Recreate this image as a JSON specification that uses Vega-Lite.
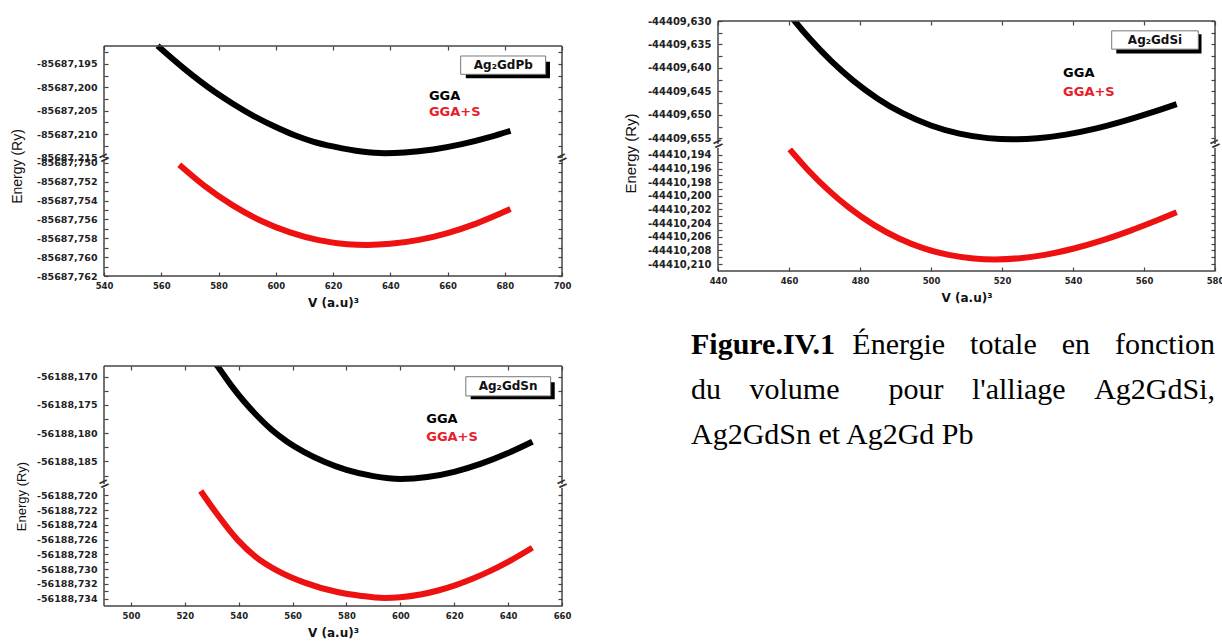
{
"$schema": "https://vega.github.io/schema/vega-lite/v6.json",
"background": "white",
"padding": {"left": 10, "top": 16, "right": 2, "bottom": 2},
"config": {
 "view": {"stroke": null},
 "axis": {"grid": false, "domain": false, "tickColor": "#444", "tickWidth": 1.2, "tickSize": -4, "labelFont": "DejaVu Sans", "labelFontWeight": "bold", "labelFontSize": 9.5, "labelColor": "#222", "labelPadding": 11, "labelOverlap": false, "labelFlush": false, "titleFont": "DejaVu Sans", "titleColor": "#111"},
 "rule": {"color": "#444", "strokeWidth": 1.5}
},
"datasets": {
 "pb": [
  {"V": 558.7, "E": -85687.1911, "m": "GGA"}, {"V": 568, "E": -85687.196, "m": "GGA"}, {"V": 578.5, "E": -85687.2009, "m": "GGA"}, {"V": 585, "E": -85687.2035, "m": "GGA"}, {"V": 592.5, "E": -85687.2062, "m": "GGA"}, {"V": 600, "E": -85687.2085, "m": "GGA"}, {"V": 606.4, "E": -85687.2102, "m": "GGA"}, {"V": 613, "E": -85687.2116, "m": "GGA"}, {"V": 620.4, "E": -85687.2127, "m": "GGA"}, {"V": 630, "E": -85687.21375, "m": "GGA"}, {"V": 638, "E": -85687.2141, "m": "GGA"}, {"V": 645, "E": -85687.21396, "m": "GGA"}, {"V": 655, "E": -85687.21331, "m": "GGA"}, {"V": 665, "E": -85687.21217, "m": "GGA"}, {"V": 675, "E": -85687.21061, "m": "GGA"}, {"V": 682, "E": -85687.2093, "m": "GGA"},
  {"V": 566.3, "E": -85687.7502, "m": "GGA+S"}, {"V": 575, "E": -85687.75241, "m": "GGA+S"}, {"V": 585, "E": -85687.75451, "m": "GGA+S"}, {"V": 595, "E": -85687.75616, "m": "GGA+S"}, {"V": 605, "E": -85687.75737, "m": "GGA+S"}, {"V": 615, "E": -85687.75819, "m": "GGA+S"}, {"V": 625, "E": -85687.75862, "m": "GGA+S"}, {"V": 632, "E": -85687.7587, "m": "GGA+S"}, {"V": 640, "E": -85687.75859, "m": "GGA+S"}, {"V": 650, "E": -85687.75817, "m": "GGA+S"}, {"V": 660, "E": -85687.75744, "m": "GGA+S"}, {"V": 670, "E": -85687.75644, "m": "GGA+S"}, {"V": 682, "E": -85687.7549, "m": "GGA+S"}
 ],
 "si": [
  {"V": 458, "E": -44409.62651, "m": "GGA"}, {"V": 461.6, "E": -44409.63, "m": "GGA"}, {"V": 466, "E": -44409.63391, "m": "GGA"}, {"V": 472, "E": -44409.63861, "m": "GGA"}, {"V": 478, "E": -44409.64264, "m": "GGA"}, {"V": 485, "E": -44409.64654, "m": "GGA"}, {"V": 492, "E": -44409.64964, "m": "GGA"}, {"V": 500, "E": -44409.65226, "m": "GGA"}, {"V": 508, "E": -44409.654, "m": "GGA"}, {"V": 516, "E": -44409.65495, "m": "GGA"}, {"V": 523, "E": -44409.6552, "m": "GGA"}, {"V": 530, "E": -44409.65497, "m": "GGA"}, {"V": 538, "E": -44409.6542, "m": "GGA"}, {"V": 546, "E": -44409.65298, "m": "GGA"}, {"V": 554, "E": -44409.65139, "m": "GGA"}, {"V": 562, "E": -44409.64953, "m": "GGA"}, {"V": 569.2, "E": -44409.6477, "m": "GGA"},
  {"V": 460.2, "E": -44410.1932, "m": "GGA+S"}, {"V": 465, "E": -44410.19603, "m": "GGA+S"}, {"V": 471, "E": -44410.19913, "m": "GGA+S"}, {"V": 477, "E": -44410.20177, "m": "GGA+S"}, {"V": 484, "E": -44410.20428, "m": "GGA+S"}, {"V": 491, "E": -44410.20624, "m": "GGA+S"}, {"V": 498, "E": -44410.20768, "m": "GGA+S"}, {"V": 505, "E": -44410.20864, "m": "GGA+S"}, {"V": 512, "E": -44410.20916, "m": "GGA+S"}, {"V": 518, "E": -44410.2093, "m": "GGA+S"}, {"V": 525, "E": -44410.20913, "m": "GGA+S"}, {"V": 532, "E": -44410.20864, "m": "GGA+S"}, {"V": 540, "E": -44410.20774, "m": "GGA+S"}, {"V": 548, "E": -44410.20655, "m": "GGA+S"}, {"V": 556, "E": -44410.20512, "m": "GGA+S"}, {"V": 563, "E": -44410.20372, "m": "GGA+S"}, {"V": 569.2, "E": -44410.2024, "m": "GGA+S"}
 ],
 "sn": [
  {"V": 528, "E": -56188.1655, "m": "GGA"}, {"V": 532.1, "E": -56188.1681, "m": "GGA"}, {"V": 537, "E": -56188.1714, "m": "GGA"}, {"V": 542, "E": -56188.1744, "m": "GGA"}, {"V": 547, "E": -56188.177, "m": "GGA"}, {"V": 552, "E": -56188.1793, "m": "GGA"}, {"V": 558, "E": -56188.1815, "m": "GGA"}, {"V": 564.2, "E": -56188.1833, "m": "GGA"}, {"V": 572, "E": -56188.1851, "m": "GGA"}, {"V": 580, "E": -56188.1865, "m": "GGA"}, {"V": 590, "E": -56188.1876, "m": "GGA"}, {"V": 600, "E": -56188.1881, "m": "GGA"}, {"V": 610, "E": -56188.18777, "m": "GGA"}, {"V": 620, "E": -56188.18684, "m": "GGA"}, {"V": 630, "E": -56188.18539, "m": "GGA"}, {"V": 640, "E": -56188.18351, "m": "GGA"}, {"V": 649, "E": -56188.1815, "m": "GGA"},
  {"V": 525.9, "E": -56188.7194, "m": "GGA+S"}, {"V": 532.1, "E": -56188.7226, "m": "GGA+S"}, {"V": 539.5, "E": -56188.726, "m": "GGA+S"}, {"V": 546.9, "E": -56188.7285, "m": "GGA+S"}, {"V": 554.3, "E": -56188.7302, "m": "GGA+S"}, {"V": 564.2, "E": -56188.7318, "m": "GGA+S"}, {"V": 576.6, "E": -56188.7331, "m": "GGA+S"}, {"V": 585, "E": -56188.7336, "m": "GGA+S"}, {"V": 594, "E": -56188.7339, "m": "GGA+S"}, {"V": 600, "E": -56188.73381, "m": "GGA+S"}, {"V": 607.5, "E": -56188.73344, "m": "GGA+S"}, {"V": 614, "E": -56188.7329, "m": "GGA+S"}, {"V": 620, "E": -56188.73224, "m": "GGA+S"}, {"V": 627, "E": -56188.73128, "m": "GGA+S"}, {"V": 633, "E": -56188.73031, "m": "GGA+S"}, {"V": 641, "E": -56188.72881, "m": "GGA+S"}, {"V": 649, "E": -56188.7271, "m": "GGA+S"}
 ]
},
"spacing": 52,
"hconcat": [
 {"spacing": 25, "align": "each", "vconcat": [
  {"spacing": 3, "bounds": "flush", "vconcat": [
   {"width": 458, "height": 137, "resolve": {"axis": {"y": "independent"}}, "layer": [
    {"data": {"name": "pb"}, "transform": [{"filter": "datum.m === 'GGA'"}], "mark": {"type": "line", "color": "#000", "strokeWidth": 6, "interpolate": "monotone", "clip": true},
     "encoding": {
      "x": {"field": "V", "type": "quantitative", "scale": {"domain": [540, 700], "nice": false, "zero": false}, "axis": {"orient": "top", "offset": -25, "values": [540,550,560,570,580,590,600,610,620,630,640,650,660,670,680,690,700], "labels": false, "title": null}},
      "y": {"field": "E", "type": "quantitative", "scale": {"domain": [-85687.21513, -85687.185797], "nice": false, "zero": false}, "axis": {"orient": "left", "values": [-85687.1925,-85687.195,-85687.1975,-85687.2,-85687.2025,-85687.205,-85687.2075,-85687.21,-85687.2125,-85687.215], "labelExpr": "abs(round(datum.value*10000)) % 50 == 0 ? '-' + replace(format(abs(datum.value), '.3f'), '.', ',') : ''", "title": "Energy (Ry)", "titleX": -87, "titleY": 145, "titleAngle": 270, "titleAlign": "center", "titleBaseline": "middle", "titleFont": "Liberation Sans", "titleFontWeight": "normal", "titleFontSize": 14}}
     }},
    {"data": {"name": "pb"}, "transform": [{"filter": "datum.m === 'GGA'"}], "mark": {"type": "line", "strokeOpacity": 0, "clip": true},
     "encoding": {"x": {"field": "V", "type": "quantitative"}, "y": {"field": "E", "type": "quantitative", "axis": {"orient": "right", "values": [-85687.1925,-85687.195,-85687.1975,-85687.2,-85687.2025,-85687.205,-85687.2075,-85687.21,-85687.2125,-85687.215], "labels": false, "title": null}}}},
    {"data": {"values": [{}]}, "mark": "rule", "encoding": {"x": {"datum": 540}, "y": {"datum": -85687.19115, "axis": null}, "y2": {"datum": -85687.21513}}},
    {"data": {"values": [{}]}, "mark": "rule", "encoding": {"x": {"datum": 700}, "y": {"datum": -85687.19115, "axis": null}, "y2": {"datum": -85687.21513}}},
    {"data": {"values": [{}]}, "mark": "rule", "encoding": {"y": {"datum": -85687.19115, "axis": null}}},
    {"data": {"values": [{}]}, "mark": {"type": "text", "text": "=", "angle": -25, "fontSize": 16, "fontWeight": "bold", "color": "#333", "align": "center", "baseline": "middle"}, "encoding": {"x": {"datum": 540}, "y": {"datum": -85687.21513, "axis": null}}},
    {"data": {"values": [{}]}, "mark": {"type": "text", "text": "=", "angle": -25, "fontSize": 16, "fontWeight": "bold", "color": "#333", "align": "center", "baseline": "middle"}, "encoding": {"x": {"datum": 700}, "y": {"datum": -85687.21513, "axis": null}}},
    {"data": {"values": [{}]}, "mark": {"type": "rect", "color": "#000"}, "encoding": {"x": {"datum": 666.4}, "x2": {"datum": 695.8}, "y": {"datum": -85687.19451, "axis": null}, "y2": {"datum": -85687.19806}}},
    {"data": {"values": [{}]}, "mark": {"type": "rect", "fill": "#fff", "stroke": "#777", "strokeWidth": 1}, "encoding": {"x": {"datum": 664.6}, "x2": {"datum": 694.3}, "y": {"datum": -85687.19329, "axis": null}, "y2": {"datum": -85687.19721}}},
    {"data": {"values": [{}]}, "mark": {"type": "text", "text": "Ag₂GdPb", "font": "DejaVu Sans", "fontWeight": "bold", "fontSize": 12, "color": "#111", "align": "center", "baseline": "middle"}, "encoding": {"x": {"datum": 679.5}, "y": {"datum": -85687.1952, "axis": null}}},
    {"data": {"values": [{}]}, "mark": {"type": "text", "text": "GGA", "font": "DejaVu Sans", "fontWeight": "bold", "fontSize": 13, "color": "#000", "align": "left", "baseline": "middle"}, "encoding": {"x": {"datum": 653.5}, "y": {"datum": -85687.2019, "axis": null}}},
    {"data": {"values": [{}]}, "mark": {"type": "text", "text": "GGA+S", "font": "DejaVu Sans", "fontWeight": "bold", "fontSize": 13, "color": "#e8202a", "align": "left", "baseline": "middle"}, "encoding": {"x": {"datum": 653.5}, "y": {"datum": -85687.2053, "axis": null}}}
   ]},
   {"width": 458, "height": 115, "resolve": {"axis": {"y": "independent"}}, "layer": [
    {"data": {"name": "pb"}, "transform": [{"filter": "datum.m === 'GGA+S'"}], "mark": {"type": "line", "color": "#ee1111", "strokeWidth": 6, "interpolate": "monotone", "clip": true},
     "encoding": {
      "x": {"field": "V", "type": "quantitative", "scale": {"domain": [540, 700], "nice": false, "zero": false}, "axis": {"orient": "bottom", "values": [540,550,560,570,580,590,600,610,620,630,640,650,660,670,680,690,700], "format": "d", "labelExpr": "datum.value % 20 == 0 ? datum.label : ''", "labelFontSize": 8.5, "labelPadding": 9, "title": "V (a.u)³", "titleFontSize": 12, "titleFontWeight": "bold", "titlePadding": 8}},
      "y": {"field": "E", "type": "quantitative", "scale": {"domain": [-85687.762, -85687.7498], "nice": false, "zero": false}, "axis": {"orient": "left", "values": [-85687.75,-85687.751,-85687.752,-85687.753,-85687.754,-85687.755,-85687.756,-85687.757,-85687.758,-85687.759,-85687.76,-85687.761,-85687.762], "labelExpr": "abs(round(datum.value*10000)) % 20 == 0 ? '-' + replace(format(abs(datum.value), '.3f'), '.', ',') : ''", "title": null}}
     }},
    {"data": {"name": "pb"}, "transform": [{"filter": "datum.m === 'GGA+S'"}], "mark": {"type": "line", "strokeOpacity": 0},
     "encoding": {"x": {"field": "V", "type": "quantitative"}, "y": {"field": "E", "type": "quantitative", "axis": {"orient": "right", "values": [-85687.75,-85687.751,-85687.752,-85687.753,-85687.754,-85687.755,-85687.756,-85687.757,-85687.758,-85687.759,-85687.76,-85687.761,-85687.762], "labels": false, "title": null}}}},
    {"data": {"values": [{}]}, "mark": "rule", "encoding": {"x": {"datum": 540}}},
    {"data": {"values": [{}]}, "mark": "rule", "encoding": {"x": {"datum": 700}}},
    {"data": {"values": [{}]}, "mark": "rule", "encoding": {"y": {"datum": -85687.762, "axis": null}}}
   ]}
  ]},
  {"title": {"text": " ", "fontSize": 22, "offset": 8}, "spacing": 4, "bounds": "flush", "vconcat": [
   {"width": 458, "height": 118, "resolve": {"axis": {"y": "independent"}}, "layer": [
    {"data": {"name": "sn"}, "transform": [{"filter": "datum.m === 'GGA'"}], "mark": {"type": "line", "color": "#000", "strokeWidth": 6, "interpolate": "monotone", "clip": true},
     "encoding": {
      "x": {"field": "V", "type": "quantitative", "scale": {"domain": [490, 660], "nice": false, "zero": false}, "axis": {"orient": "top", "values": [500,510,520,530,540,550,560,570,580,590,600,610,620,630,640,650,660], "labels": false, "title": null}},
      "y": {"field": "E", "type": "quantitative", "scale": {"domain": [-56188.189, -56188.1681], "nice": false, "zero": false}, "axis": {"orient": "left", "values": [-56188.17,-56188.1725,-56188.175,-56188.1775,-56188.18,-56188.1825,-56188.185,-56188.1875], "labelExpr": "abs(round(datum.value*10000)) % 50 == 0 ? '-' + replace(format(abs(datum.value), '.3f'), '.', ',') : ''", "title": "Energy (Ry)", "titleX": -83, "titleY": 130, "titleAngle": 270, "titleAlign": "center", "titleBaseline": "middle", "titleFont": "Liberation Sans", "titleFontWeight": "normal", "titleFontSize": 13}}
     }},
    {"data": {"name": "sn"}, "transform": [{"filter": "datum.m === 'GGA'"}], "mark": {"type": "line", "strokeOpacity": 0, "clip": true},
     "encoding": {"x": {"field": "V", "type": "quantitative"}, "y": {"field": "E", "type": "quantitative", "axis": {"orient": "right", "values": [-56188.17,-56188.1725,-56188.175,-56188.1775,-56188.18,-56188.1825,-56188.185,-56188.1875], "labels": false, "title": null}}}},
    {"data": {"values": [{}]}, "mark": "rule", "encoding": {"x": {"datum": 490}}},
    {"data": {"values": [{}]}, "mark": "rule", "encoding": {"x": {"datum": 660}}},
    {"data": {"values": [{}]}, "mark": "rule", "encoding": {"y": {"datum": -56188.1681, "axis": null}}},
    {"data": {"values": [{}]}, "mark": {"type": "text", "text": "=", "angle": -25, "fontSize": 16, "fontWeight": "bold", "color": "#333", "align": "center", "baseline": "middle"}, "encoding": {"x": {"datum": 490}, "y": {"datum": -56188.189, "axis": null}}},
    {"data": {"values": [{}]}, "mark": {"type": "text", "text": "=", "angle": -25, "fontSize": 16, "fontWeight": "bold", "color": "#333", "align": "center", "baseline": "middle"}, "encoding": {"x": {"datum": 660}, "y": {"datum": -56188.189, "axis": null}}},
    {"data": {"values": [{}]}, "mark": {"type": "rect", "color": "#000"}, "encoding": {"x": {"datum": 626.1}, "x2": {"datum": 657.3}, "y": {"datum": -56188.171, "axis": null}, "y2": {"datum": -56188.174}}},
    {"data": {"values": [{}]}, "mark": {"type": "rect", "fill": "#fff", "stroke": "#777", "strokeWidth": 1}, "encoding": {"x": {"datum": 624.3}, "x2": {"datum": 655.8}, "y": {"datum": -56188.17, "axis": null}, "y2": {"datum": -56188.1734}}},
    {"data": {"values": [{}]}, "mark": {"type": "text", "text": "Ag₂GdSn", "font": "DejaVu Sans", "fontWeight": "bold", "fontSize": 12, "color": "#111", "align": "center", "baseline": "middle"}, "encoding": {"x": {"datum": 640}, "y": {"datum": -56188.1717, "axis": null}}},
    {"data": {"values": [{}]}, "mark": {"type": "text", "text": "GGA", "font": "DejaVu Sans", "fontWeight": "bold", "fontSize": 13, "color": "#000", "align": "left", "baseline": "middle"}, "encoding": {"x": {"datum": 609.6}, "y": {"datum": -56188.1775, "axis": null}}},
    {"data": {"values": [{}]}, "mark": {"type": "text", "text": "GGA+S", "font": "DejaVu Sans", "fontWeight": "bold", "fontSize": 13, "color": "#e8202a", "align": "left", "baseline": "middle"}, "encoding": {"x": {"datum": 609.6}, "y": {"datum": -56188.1806, "axis": null}}}
   ]},
   {"width": 458, "height": 118, "resolve": {"axis": {"y": "independent"}}, "layer": [
    {"data": {"name": "sn"}, "transform": [{"filter": "datum.m === 'GGA+S'"}], "mark": {"type": "line", "color": "#ee1111", "strokeWidth": 6, "interpolate": "monotone", "clip": true},
     "encoding": {
      "x": {"field": "V", "type": "quantitative", "scale": {"domain": [490, 660], "nice": false, "zero": false}, "axis": {"orient": "bottom", "values": [500,510,520,530,540,550,560,570,580,590,600,610,620,630,640,650,660], "format": "d", "labelExpr": "datum.value % 20 == 0 ? datum.label : ''", "labelFontSize": 8.5, "labelPadding": 9, "title": "V (a.u)³", "titleFontSize": 12, "titleFontWeight": "bold", "titlePadding": 8}},
      "y": {"field": "E", "type": "quantitative", "scale": {"domain": [-56188.735, -56188.719], "nice": false, "zero": false}, "axis": {"orient": "left", "values": [-56188.72,-56188.721,-56188.722,-56188.723,-56188.724,-56188.725,-56188.726,-56188.727,-56188.728,-56188.729,-56188.73,-56188.731,-56188.732,-56188.733,-56188.734], "labelExpr": "abs(round(datum.value*10000)) % 20 == 0 ? '-' + replace(format(abs(datum.value), '.3f'), '.', ',') : ''", "title": null}}
     }},
    {"data": {"name": "sn"}, "transform": [{"filter": "datum.m === 'GGA+S'"}], "mark": {"type": "line", "strokeOpacity": 0},
     "encoding": {"x": {"field": "V", "type": "quantitative"}, "y": {"field": "E", "type": "quantitative", "axis": {"orient": "right", "values": [-56188.72,-56188.721,-56188.722,-56188.723,-56188.724,-56188.725,-56188.726,-56188.727,-56188.728,-56188.729,-56188.73,-56188.731,-56188.732,-56188.733,-56188.734], "labels": false, "title": null}}}},
    {"data": {"values": [{}]}, "mark": "rule", "encoding": {"x": {"datum": 490}}},
    {"data": {"values": [{}]}, "mark": "rule", "encoding": {"x": {"datum": 660}}},
    {"data": {"values": [{}]}, "mark": "rule", "encoding": {"y": {"datum": -56188.735, "axis": null}}}
   ]}
  ]}
 ]},
 {"spacing": 26, "align": "each", "vconcat": [
  {"spacing": 4, "bounds": "flush", "vconcat": [
   {"width": 497, "height": 123, "resolve": {"axis": {"y": "independent"}}, "layer": [
    {"data": {"name": "si"}, "transform": [{"filter": "datum.m === 'GGA'"}], "mark": {"type": "line", "color": "#000", "strokeWidth": 6, "interpolate": "monotone", "clip": true},
     "encoding": {
      "x": {"field": "V", "type": "quantitative", "scale": {"domain": [440, 580], "nice": false, "zero": false}, "axis": {"orient": "top", "values": [440,450,460,470,480,490,500,510,520,530,540,550,560,570,580], "labels": false, "title": null}},
      "y": {"field": "E", "type": "quantitative", "scale": {"domain": [-44409.6562, -44409.63], "nice": false, "zero": false}, "axis": {"orient": "left", "values": [-44409.63,-44409.6325,-44409.635,-44409.6375,-44409.64,-44409.6425,-44409.645,-44409.6475,-44409.65,-44409.6525,-44409.655], "labelFontSize": 10, "labelExpr": "abs(round(datum.value*10000)) % 50 == 0 ? '-' + replace(format(abs(datum.value), '.3f'), '.', ',') : ''", "title": "Energy (Ry)", "titleX": -88, "titleY": 132, "titleAngle": 270, "titleAlign": "center", "titleBaseline": "middle", "titleFont": "Liberation Sans", "titleFontWeight": "normal", "titleFontSize": 15}}
     }},
    {"data": {"name": "si"}, "transform": [{"filter": "datum.m === 'GGA'"}], "mark": {"type": "line", "strokeOpacity": 0, "clip": true},
     "encoding": {"x": {"field": "V", "type": "quantitative"}, "y": {"field": "E", "type": "quantitative", "axis": {"orient": "right", "values": [-44409.63,-44409.6325,-44409.635,-44409.6375,-44409.64,-44409.6425,-44409.645,-44409.6475,-44409.65,-44409.6525,-44409.655], "labels": false, "title": null}}}},
    {"data": {"values": [{}]}, "mark": "rule", "encoding": {"x": {"datum": 440}}},
    {"data": {"values": [{}]}, "mark": "rule", "encoding": {"x": {"datum": 580}}},
    {"data": {"values": [{}]}, "mark": "rule", "encoding": {"y": {"datum": -44409.63, "axis": null}}},
    {"data": {"values": [{}]}, "mark": {"type": "text", "text": "=", "angle": -25, "fontSize": 16, "fontWeight": "bold", "color": "#333", "align": "center", "baseline": "middle"}, "encoding": {"x": {"datum": 440}, "y": {"datum": -44409.6562, "axis": null}}},
    {"data": {"values": [{}]}, "mark": {"type": "text", "text": "=", "angle": -25, "fontSize": 16, "fontWeight": "bold", "color": "#333", "align": "center", "baseline": "middle"}, "encoding": {"x": {"datum": 580}, "y": {"datum": -44409.6562, "axis": null}}},
    {"data": {"values": [{}]}, "mark": {"type": "rect", "color": "#000"}, "encoding": {"x": {"datum": 552.2}, "x2": {"datum": 576.2}, "y": {"datum": -44409.6328, "axis": null}, "y2": {"datum": -44409.6369}}},
    {"data": {"values": [{}]}, "mark": {"type": "rect", "fill": "#fff", "stroke": "#777", "strokeWidth": 1}, "encoding": {"x": {"datum": 550.9}, "x2": {"datum": 575.3}, "y": {"datum": -44409.6321, "axis": null}, "y2": {"datum": -44409.636}}},
    {"data": {"values": [{}]}, "mark": {"type": "text", "text": "Ag₂GdSi", "font": "DejaVu Sans", "fontWeight": "bold", "fontSize": 12, "color": "#111", "align": "center", "baseline": "middle"}, "encoding": {"x": {"datum": 563.1}, "y": {"datum": -44409.634, "axis": null}}},
    {"data": {"values": [{}]}, "mark": {"type": "text", "text": "GGA", "font": "DejaVu Sans", "fontWeight": "bold", "fontSize": 13, "color": "#000", "align": "left", "baseline": "middle"}, "encoding": {"x": {"datum": 537.2}, "y": {"datum": -44409.641, "axis": null}}},
    {"data": {"values": [{}]}, "mark": {"type": "text", "text": "GGA+S", "font": "DejaVu Sans", "fontWeight": "bold", "fontSize": 13, "color": "#e8202a", "align": "left", "baseline": "middle"}, "encoding": {"x": {"datum": 537.2}, "y": {"datum": -44409.6452, "axis": null}}}
   ]},
   {"width": 497, "height": 123, "resolve": {"axis": {"y": "independent"}}, "layer": [
    {"data": {"name": "si"}, "transform": [{"filter": "datum.m === 'GGA+S'"}], "mark": {"type": "line", "color": "#ee1111", "strokeWidth": 6, "interpolate": "monotone", "clip": true},
     "encoding": {
      "x": {"field": "V", "type": "quantitative", "scale": {"domain": [440, 580], "nice": false, "zero": false}, "axis": {"orient": "bottom", "values": [440,450,460,470,480,490,500,510,520,530,540,550,560,570,580], "format": "d", "labelExpr": "datum.value % 20 == 0 ? datum.label : ''", "labelFontSize": 8.5, "labelPadding": 9, "title": "V (a.u)³", "titleFontSize": 12, "titleFontWeight": "bold", "titlePadding": 8}},
      "y": {"field": "E", "type": "quantitative", "scale": {"domain": [-44410.211, -44410.193], "nice": false, "zero": false}, "axis": {"orient": "left", "values": [-44410.194,-44410.195,-44410.196,-44410.197,-44410.198,-44410.199,-44410.2,-44410.201,-44410.202,-44410.203,-44410.204,-44410.205,-44410.206,-44410.207,-44410.208,-44410.209,-44410.21], "labelFontSize": 10, "labelExpr": "abs(round(datum.value*10000)) % 20 == 0 ? '-' + replace(format(abs(datum.value), '.3f'), '.', ',') : ''", "title": null}}
     }},
    {"data": {"name": "si"}, "transform": [{"filter": "datum.m === 'GGA+S'"}], "mark": {"type": "line", "strokeOpacity": 0},
     "encoding": {"x": {"field": "V", "type": "quantitative"}, "y": {"field": "E", "type": "quantitative", "axis": {"orient": "right", "values": [-44410.194,-44410.195,-44410.196,-44410.197,-44410.198,-44410.199,-44410.2,-44410.201,-44410.202,-44410.203,-44410.204,-44410.205,-44410.206,-44410.207,-44410.208,-44410.209,-44410.21], "labels": false, "title": null}}}},
    {"data": {"values": [{}]}, "mark": "rule", "encoding": {"x": {"datum": 440}}},
    {"data": {"values": [{}]}, "mark": "rule", "encoding": {"x": {"datum": 580}}},
    {"data": {"values": [{}]}, "mark": "rule", "encoding": {"y": {"datum": -44410.211, "axis": null}}}
   ]}
  ]},
  {"width": 497, "height": 110,
   "data": {"values": [
    {"line": 1, "part": "lead", "text": "Figure.IV.1"},
    {"line": 1, "part": "tail", "text": "Énergie \u2002\u200atotale \u2002\u200aen \u2002\u200afonction"},
    {"line": 2, "part": "lead", "text": "du \u2002\u2009volume"},
    {"line": 2, "part": "tail", "text": "pour \u2002\u2009l'alliage \u2002\u2009Ag2GdSi,"},
    {"line": 3, "part": "lead", "text": "Ag2GdSn et Ag2Gd Pb"}
   ]},
   "layer": [
    {"transform": [{"filter": "datum.line === 1 && datum.part === 'lead'"}], "mark": {"type": "text", "align": "left", "baseline": "alphabetic", "font": "Liberation Serif", "fontSize": 30, "fontWeight": "bold", "color": "#000"},
     "encoding": {"x": {"datum": 0, "scale": {"domain": [0, 1], "range": [-27, 497], "nice": false}, "axis": null}, "y": {"field": "line", "type": "quantitative", "scale": {"domain": [1, 3], "range": [20, 110], "nice": false, "zero": false}, "axis": null}, "text": {"field": "text"}}},
    {"transform": [{"filter": "datum.line > 1 && datum.part === 'lead'"}], "mark": {"type": "text", "align": "left", "baseline": "alphabetic", "font": "Liberation Serif", "fontSize": 30, "color": "#000"},
     "encoding": {"x": {"datum": 0, "axis": null}, "y": {"field": "line", "type": "quantitative", "axis": null}, "text": {"field": "text"}}},
    {"transform": [{"filter": "datum.part === 'tail'"}], "mark": {"type": "text", "align": "right", "baseline": "alphabetic", "font": "Liberation Serif", "fontSize": 30, "color": "#000"},
     "encoding": {"x": {"datum": 1, "axis": null}, "y": {"field": "line", "type": "quantitative", "axis": null}, "text": {"field": "text"}}}
   ]}
 ]}
]
}
